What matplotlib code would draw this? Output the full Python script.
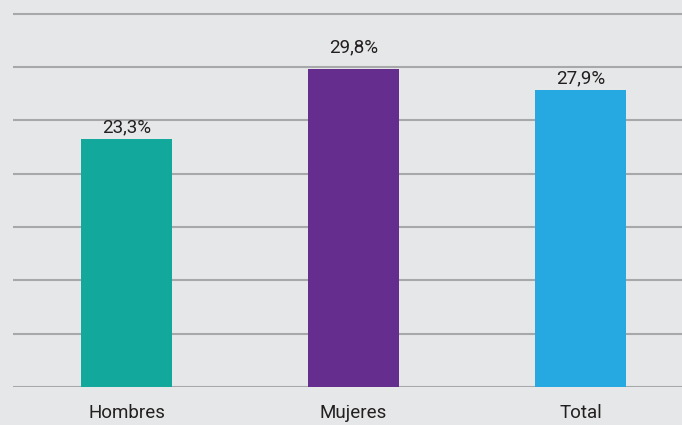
import math
import matplotlib.pyplot as plt

categories = ["Hombres", "Mujeres", "Total"]
values = [23.3, 29.8, 27.9]
labels = ["23,3%", "29,8%", "27,9%"]
colors = ["#12a89b", "#652d8e", "#25a9e0"]

plt.rcParams['font.family'] = ['Roboto', 'DejaVu Sans']

fig = plt.figure(figsize=(6.82, 4.25), dpi=100, facecolor="#e6e7e8")
ax = fig.add_axes([13 / 682, 38 / 425, 669 / 682, 387 / 425])
ax.set_facecolor("#e6e7e8")

x = range(len(categories))
ax.bar(x, values, width=0.4, color=colors, zorder=3)

for xi, v, lab in zip(x, values, labels):
    # lift the label over a gridline that sits just above the bar
    grid_above = math.ceil(v / 5) * 5
    y = grid_above + 1.0 if grid_above - v < 1 else v + 0.2
    ax.text(xi, y, lab, ha="center", va="bottom",
            fontsize=13.5, color="#231f20", zorder=4)

ax.set_xlim(-0.5, 2.447)
ax.set_ylim(0, 36.3)
ax.set_yticks(range(0, 36, 5))
ax.yaxis.grid(True, color="#a7a8aa", linewidth=1.5, zorder=0)
ax.tick_params(axis="y", left=False, labelleft=False)
ax.set_xticks(list(x))
ax.set_xticklabels(categories, fontsize=13.5, color="#231f20")
ax.tick_params(axis="x", length=0, pad=12.5)
for s in ax.spines.values():
    s.set_visible(False)

fig.savefig("out.png", dpi=100, facecolor=fig.get_facecolor())
